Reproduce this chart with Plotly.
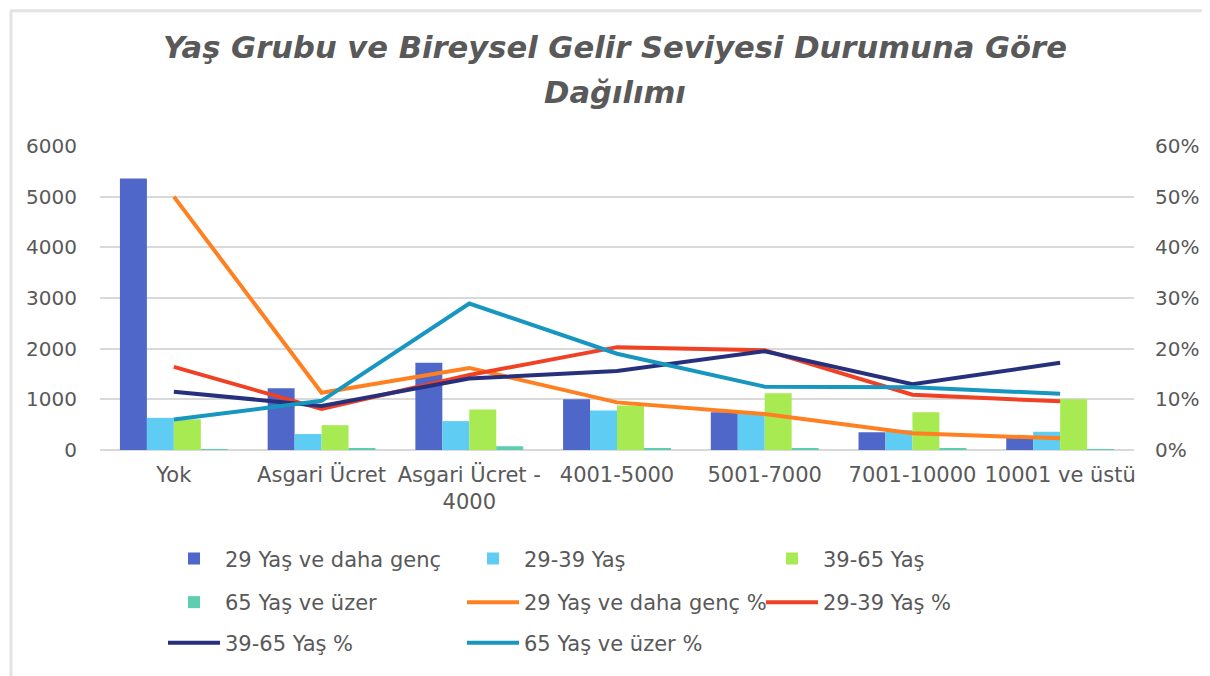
import plotly.graph_objects as go

categories = ["Yok", "Asgari Ücret", "Asgari Ücret -<br>4000", "4001-5000", "5001-7000", "7001-10000", "10001 ve üstü"]

bar_names = ["29 Yaş ve daha genç", "29-39 Yaş", "39-65 Yaş", "65 Yaş ve üzer"]
genc = [5360, 1220, 1720, 1000, 745, 350, 250]
y29_39 = [635, 315, 570, 780, 710, 390, 360]
y39_65 = [605, 490, 800, 880, 1120, 745, 1000]
y65 = [10, 20, 75, 40, 25, 20, 15]

line_names = ["29 Yaş ve daha genç %", "29-39 Yaş %", "39-65 Yaş %", "65 Yaş ve üzer %"]
genc_pct = [0.500, 0.113, 0.162, 0.094, 0.071, 0.033, 0.023]
p29_39 = [0.164, 0.081, 0.148, 0.203, 0.197, 0.109, 0.096]
p39_65 = [0.115, 0.087, 0.141, 0.156, 0.195, 0.130, 0.172]
p65 = [0.060, 0.097, 0.289, 0.190, 0.125, 0.124, 0.111]

bar_colors = ["#4E67C8", "#5ECCF3", "#A7EA52", "#5DCEAF"]
line_colors = ["#FF8021", "#F14124", "#27307D", "#1796C0"]

FONT = "DejaVu Sans, sans-serif"
GRAY = "#595959"

# legend rows (which legend each trace belongs to)
bar_legends = ["legend", "legend", "legend", "legend2"]
line_legends = ["legend2", "legend2", "legend3", "legend3"]

fig = go.Figure()
for name, vals, col, lg in zip(bar_names, [genc, y29_39, y39_65, y65], bar_colors, bar_legends):
    fig.add_trace(go.Bar(x=categories, y=vals, name=name, marker_color=col,
                         marker_line_width=0, legend=lg))
for name, vals, col, lg in zip(line_names, [genc_pct, p29_39, p39_65, p65], line_colors, line_legends):
    fig.add_trace(go.Scatter(x=categories, y=vals, name=name, mode="lines",
                             line=dict(color=col, width=4), yaxis="y2", legend=lg))

W, H = 1202, 668
L, T = 92, 138
R = W - 1126
B = H - 445
pw, ph = 1034, 307

def px(x):  # reference screenshot x -> paper
    return (x - 100) / pw

def py(y):  # reference screenshot y -> paper
    return (453 - y) / ph

def leg(yref):
    return dict(orientation="h", x=px(163), y=py(yref), xanchor="left", yanchor="middle",
                font=dict(size=21, color=GRAY, family=FONT),
                entrywidth=232, entrywidthmode="pixels", traceorder="normal",
                itemwidth=52, bgcolor="rgba(0,0,0,0)")

fig.update_layout(
    width=W, height=H,
    margin=dict(l=L, r=R, t=T, b=B),
    paper_bgcolor="white", plot_bgcolor="white",
    barmode="group", bargap=0.27, bargroupgap=0,
    font=dict(family=FONT, color=GRAY, size=20),
    showlegend=True,
    legend=leg(563), legend2=leg(607), legend3=leg(648),
    xaxis=dict(showgrid=False, showline=False, ticks="", tickfont=dict(size=21, color=GRAY),
               ticklabelstandoff=10),
    yaxis=dict(range=[0, 6000], dtick=1000, showgrid=True, gridcolor="#D9D9D9", gridwidth=1.5,
               zeroline=True, zerolinecolor="#D9D9D9", zerolinewidth=1.5, showline=False,
               ticks="", tickfont=dict(size=20, color=GRAY), ticklabelstandoff=22),
    yaxis2=dict(range=[0, 0.6], dtick=0.1, tickformat=".0%", overlaying="y", side="right",
                showgrid=False, zeroline=False, showline=False, ticks="",
                tickfont=dict(size=20, color=GRAY), ticklabelstandoff=20),
    annotations=[
        dict(text="<b><i>Yaş Grubu ve Bireysel Gelir Seviyesi Durumuna Göre</i></b>",
             xref="paper", yref="paper", x=px(615), y=py(47), xanchor="center", yanchor="middle",
             showarrow=False, font=dict(size=30.6, color=GRAY, family=FONT)),
        dict(text="<b><i>Dağılımı</i></b>",
             xref="paper", yref="paper", x=px(615), y=py(92), xanchor="center", yanchor="middle",
             showarrow=False, font=dict(size=30.6, color=GRAY, family=FONT)),
    ],
    shapes=[
        dict(type="line", xref="paper", yref="paper", x0=px(11), x1=px(11), y0=py(9), y1=py(700),
             line=dict(color="#E3E3E3", width=3)),
        dict(type="line", xref="paper", yref="paper", x0=px(10), x1=px(1230), y0=py(9.5), y1=py(9.5),
             line=dict(color="#E3E3E3", width=3)),
    ],
)

fig.write_html("out.html")
